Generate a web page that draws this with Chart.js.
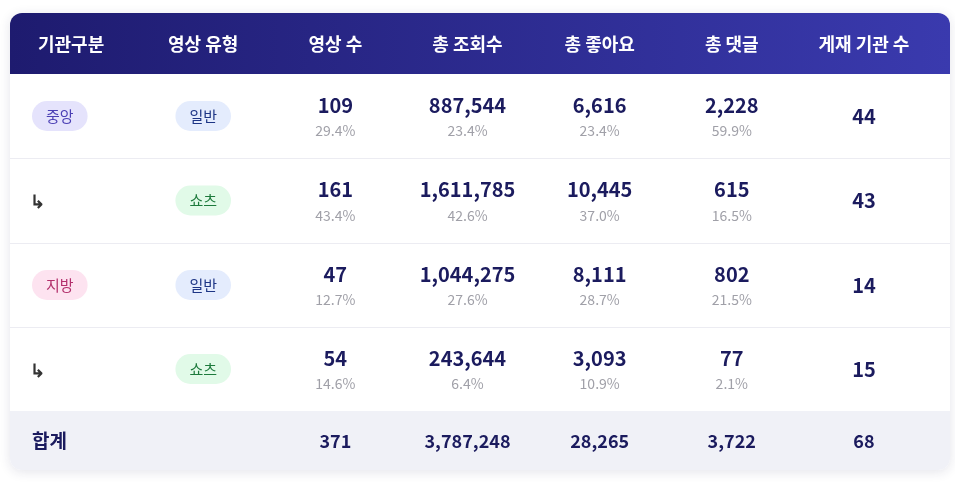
<!DOCTYPE html>
<html><head><meta charset="utf-8">
<script src="https://cdn.jsdelivr.net/npm/chart.js@4"></script>
<style>html,body{margin:0;padding:0;background:#fff}</style>
</head><body>
<canvas id="c" width="955" height="483"></canvas>
<script>
const columns = ['기관구분','영상 유형','영상 수','총 조회수','총 좋아요','총 댓글','게재 기관 수'];
const regions = ['중앙','','지방',''];
const types = ['일반','쇼츠','일반','쇼츠'];
const videos = [109,161,47,54];
const videosPct = ['29.4%','43.4%','12.7%','14.6%'];
const views = [887544,1611785,1044275,243644];
const viewsPct = ['23.4%','42.6%','27.6%','6.4%'];
const likes = [6616,10445,8111,3093];
const likesPct = ['23.4%','37.0%','28.7%','10.9%'];
const comments = [2228,615,802,77];
const commentsPct = ['59.9%','16.5%','21.5%','2.1%'];
const orgs = [44,43,14,15];
const totals = ['합계','',371,3787248,28265,3722,68];

const F = '"Noto Sans CJK KR","Noto Sans",sans-serif';
const fmt = n => typeof n==='number' ? n.toLocaleString('en-US') : n;
const badge = {
  '중앙':['#e5e3fc','#4b3fb5'], '지방':['#fde3f0','#b3306c'],
  '일반':['#e4ecfd','#1d3585'], '쇼츠':['#e1fae8','#1d7a3c']
};
function rr(ctx,x,y,w,h,r){ctx.beginPath();ctx.moveTo(x+r,y);ctx.arcTo(x+w,y,x+w,y+h,r);ctx.arcTo(x+w,y+h,x,y+h,r);ctx.arcTo(x,y+h,x,y,r);ctx.arcTo(x,y,x+w,y,r);ctx.closePath();}

const tablePlugin = {
  id:'table',
  beforeDatasetsDraw(chart){
    const ctx=chart.ctx, xs=chart.scales.x;
    const X=i=>xs.getPixelForValue(i);
    const L=10,R=950,T=13,B=470;
    const rowTop=[74,158,243,327,411], rowH=[84,85,84,84,59];
    ctx.save();
    ctx.shadowColor='rgba(30,30,80,0.12)';ctx.shadowBlur=12;ctx.shadowOffsetY=2;
    rr(ctx,L,T,R-L,B-T,12);ctx.fillStyle='#fff';ctx.fill();
    ctx.restore();
    ctx.save();rr(ctx,L,T,R-L,B-T,12);ctx.clip();
    const g=ctx.createLinearGradient(L,0,R,0);g.addColorStop(0,'#1e1b6f');g.addColorStop(1,'#3a3aae');
    ctx.fillStyle=g;ctx.fillRect(L,T,R-L,61);
    ctx.fillStyle='#f0f1f7';ctx.fillRect(L,411,R-L,B-411);
    ctx.restore();
    ctx.strokeStyle='#ececf2';ctx.lineWidth=1;
    for(let i=1;i<4;i++){ctx.beginPath();ctx.moveTo(L,rowTop[i]+0.5);ctx.lineTo(R,rowTop[i]+0.5);ctx.stroke();}
    ctx.textBaseline='middle';
    ctx.fillStyle='#fff';ctx.font='bold 18px '+F;ctx.textAlign='center';
    columns.forEach((c,i)=>ctx.fillText(c,X(i),44));
    const numCols=[[videos,videosPct],[views,viewsPct],[likes,likesPct],[comments,commentsPct]];
    for(let r=0;r<4;r++){
      const cy=rowTop[r]+rowH[r]/2;
      const drawBadge=(t,x,align)=>{
        const [bg,fg]=badge[t];ctx.font='15px '+F;
        const w=ctx.measureText(t).width+28, bx=align==='left'?x:x-w/2;
        rr(ctx,bx,cy-15,w,30,15);ctx.fillStyle=bg;ctx.fill();
        ctx.fillStyle=fg;ctx.textAlign='center';ctx.fillText(t,bx+w/2,cy);
      };
      if(regions[r]) drawBadge(regions[r],32,'left');
      else{ctx.fillStyle='#333';ctx.font='bold 18px '+F;ctx.textAlign='left';ctx.fillText('↳',30,cy+1);}
      drawBadge(types[r],X(1),'center');
      numCols.forEach(([v,p],j)=>{
        ctx.textAlign='center';
        ctx.fillStyle='#1b1b5e';ctx.font='bold 20px '+F;ctx.fillText(fmt(v[r]),X(j+2),cy-11);
        ctx.fillStyle='#a0a0a8';ctx.font='14px '+F;ctx.fillText(p[r],X(j+2),cy+15);
      });
      ctx.fillStyle='#1b1b5e';ctx.font='bold 20px '+F;ctx.fillText(orgs[r],X(6),cy);
    }
    const ty=441;
    ctx.fillStyle='#1b1b5e';ctx.font='bold 19px '+F;ctx.textAlign='left';ctx.fillText(totals[0],32,ty);
    ctx.textAlign='center';ctx.font='bold 18px '+F;
    for(let i=2;i<7;i++) ctx.fillText(fmt(totals[i]),X(i),ty);
  }
};

new Chart(document.getElementById('c'),{
  type:'scatter',
  data:{labels:columns,datasets:[{data:columns.map((c,i)=>({x:c,y:0})),pointRadius:0}]},
  options:{responsive:false,animation:false,
    layout:{padding:{left:5,right:25,top:0,bottom:0}},
    plugins:{legend:{display:false},tooltip:{enabled:false}},
    scales:{x:{type:'category',labels:columns,offset:true,display:false},
            y:{display:false,min:-1,max:1}}},
  plugins:[tablePlugin]
});
</script>
</body></html>
